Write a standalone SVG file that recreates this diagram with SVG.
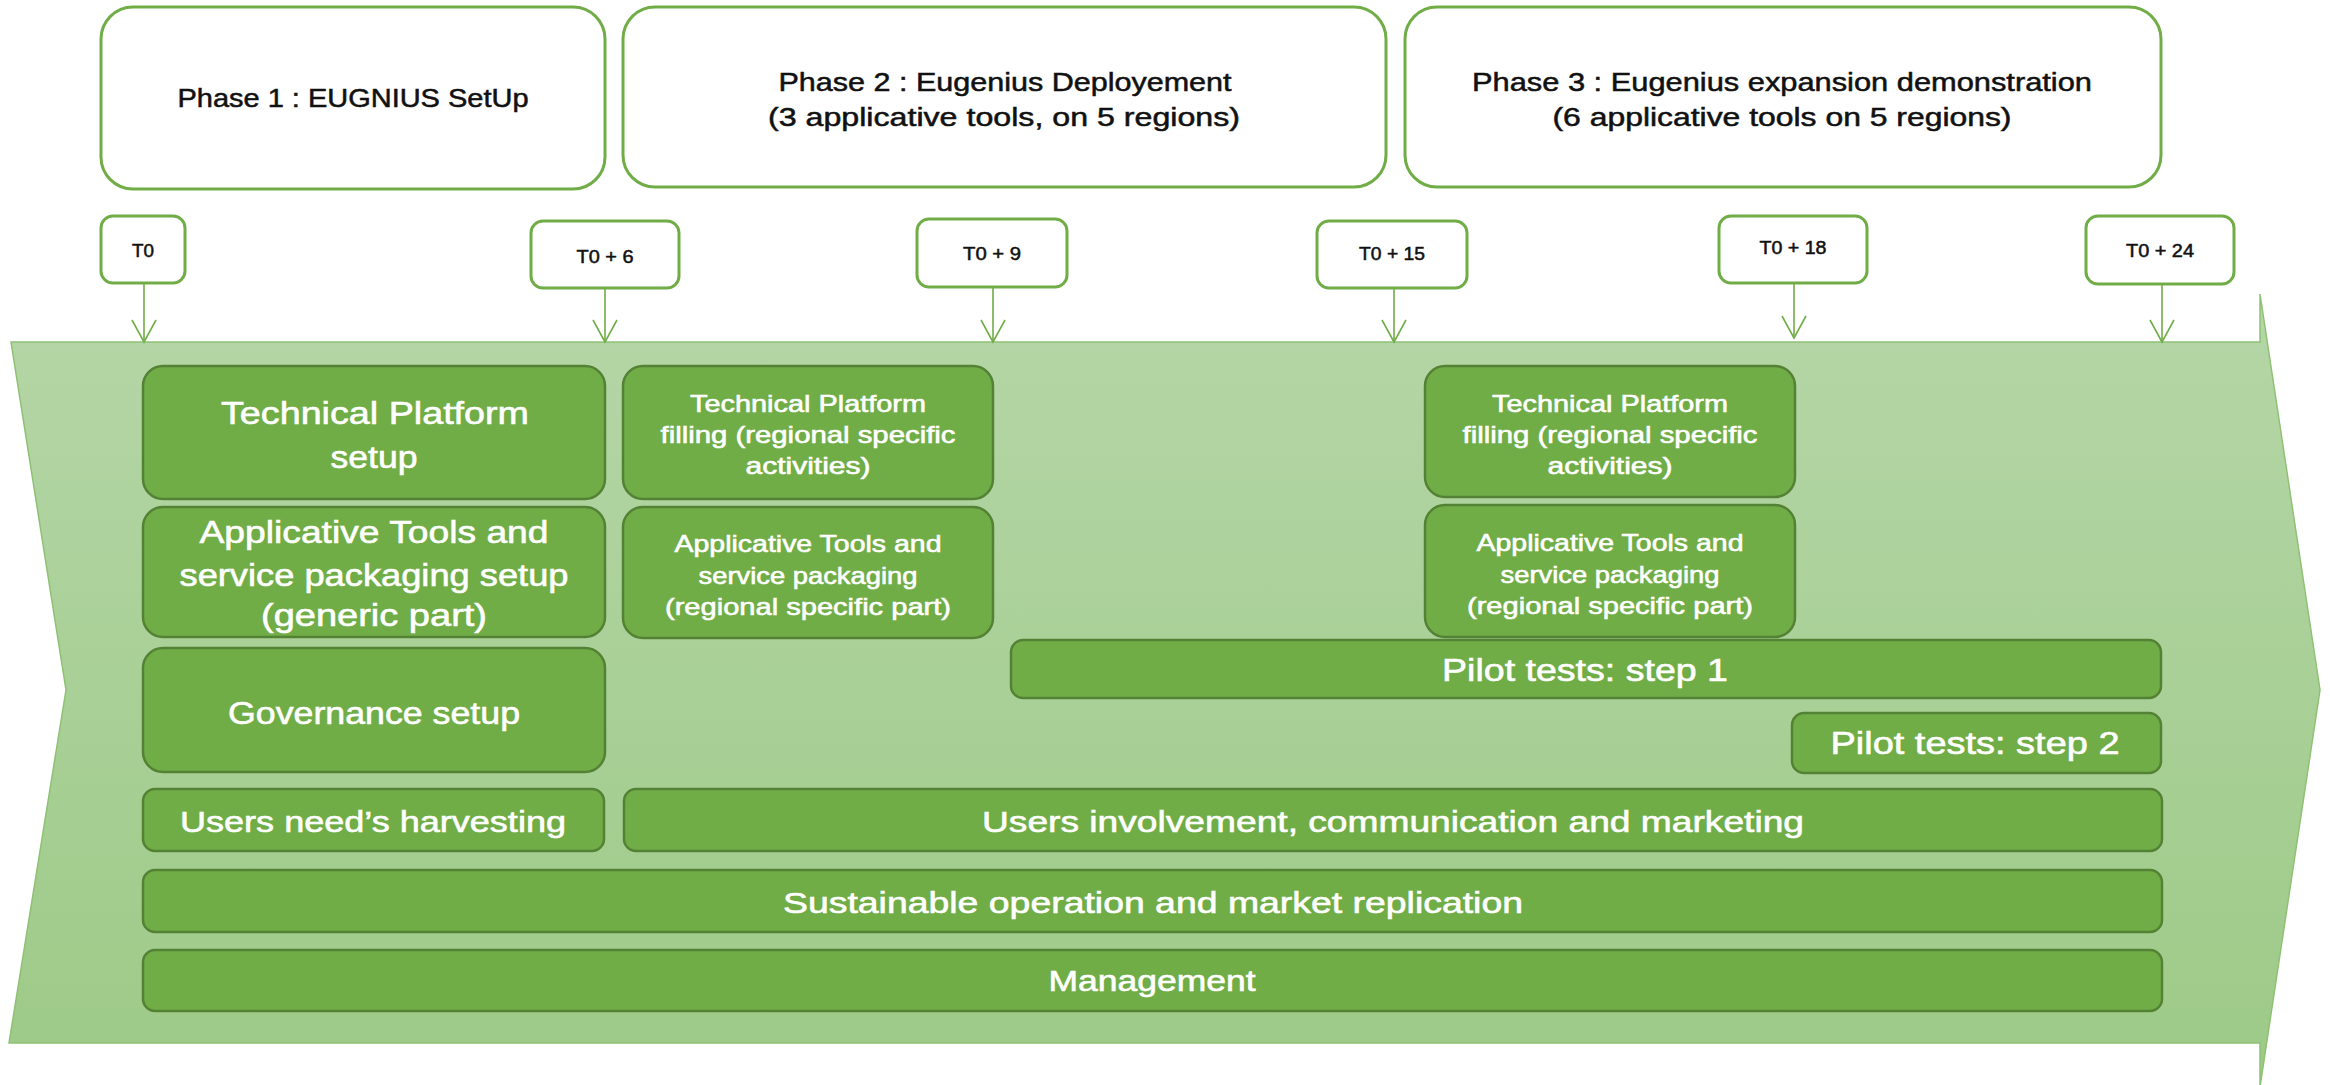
<svg xmlns="http://www.w3.org/2000/svg" width="2330" height="1085" viewBox="0 0 2330 1085">
<defs>
<linearGradient id="bg" x1="0" y1="0" x2="0" y2="1">
<stop offset="0" stop-color="#B5D6A7"/>
<stop offset="1" stop-color="#9DCA87"/>
</linearGradient>
<marker id="v" viewBox="0 0 26 26" markerWidth="26" markerHeight="26" refX="23" refY="13" orient="auto" markerUnits="userSpaceOnUse">
<path d="M1,1 L23,13 L1,25" fill="none" stroke="#70AD47" stroke-width="1.6"/>
</marker>
</defs>
<style>
.phase{fill:#FFFFFF;stroke:#70AD47;stroke-width:3}
.ms{fill:#FFFFFF;stroke:#70AD47;stroke-width:3}
.task{fill:#70AD47;stroke:#548235;stroke-width:2.5}
.dark{font-family:"Liberation Sans",Arial,sans-serif;fill:#111111;stroke:#111111;stroke-width:0.5;text-anchor:middle}
.wt{font-family:"Liberation Sans",Arial,sans-serif;fill:#FFFFFF;stroke:#FFFFFF;stroke-width:0.6;text-anchor:middle}
.conn{stroke:#70AD47;stroke-width:1.6;fill:none}
</style>
<rect width="2330" height="1085" fill="#FFFFFF"/>
<g id="timeline-arrow">
<path d="M11,342 L2260,342 L2260,294 L2320,690 L2260,1087 L2260,1043 L9,1043 L66,690 Z" fill="url(#bg)" stroke="#8FC175" stroke-width="1.5"/>
</g>
<g id="phase1">
<rect class="phase" x="101" y="7" width="504" height="182" rx="32"/>
<text class="dark" x="353" y="107" font-size="25" textLength="351" lengthAdjust="spacingAndGlyphs">Phase 1 : EUGNIUS SetUp</text>
</g>
<g id="phase2">
<rect class="phase" x="623" y="7" width="763" height="180" rx="32"/>
<text class="dark" x="1005" y="91" font-size="25" textLength="453" lengthAdjust="spacingAndGlyphs">Phase 2 : Eugenius Deployement</text>
<text class="dark" x="1004" y="126" font-size="25" textLength="472" lengthAdjust="spacingAndGlyphs">(3 applicative tools, on 5 regions)</text>
</g>
<g id="phase3">
<rect class="phase" x="1405" y="7" width="756" height="180" rx="32"/>
<text class="dark" x="1782" y="91" font-size="25" textLength="620" lengthAdjust="spacingAndGlyphs">Phase 3 : Eugenius expansion demonstration</text>
<text class="dark" x="1782" y="126" font-size="25" textLength="459" lengthAdjust="spacingAndGlyphs">(6 applicative tools on 5 regions)</text>
</g>
<g id="m-t0">
<rect class="ms" x="101" y="216" width="84" height="67" rx="12"/>
<text class="dark" x="143" y="257" font-size="18" textLength="22" lengthAdjust="spacingAndGlyphs">T0</text>
</g>
<g id="m-t6">
<rect class="ms" x="531" y="221" width="148" height="67" rx="12"/>
<text class="dark" x="605" y="263" font-size="18" textLength="57" lengthAdjust="spacingAndGlyphs">T0 + 6</text>
</g>
<g id="m-t9">
<rect class="ms" x="917" y="219" width="150" height="68" rx="12"/>
<text class="dark" x="992" y="260" font-size="18" textLength="58" lengthAdjust="spacingAndGlyphs">T0 + 9</text>
</g>
<g id="m-t15">
<rect class="ms" x="1317" y="221" width="150" height="67" rx="12"/>
<text class="dark" x="1392" y="260" font-size="18" textLength="66" lengthAdjust="spacingAndGlyphs">T0 + 15</text>
</g>
<g id="m-t18">
<rect class="ms" x="1719" y="216" width="148" height="67" rx="12"/>
<text class="dark" x="1793" y="254" font-size="18" textLength="67" lengthAdjust="spacingAndGlyphs">T0 + 18</text>
</g>
<g id="m-t24">
<rect class="ms" x="2086" y="216" width="148" height="68" rx="12"/>
<text class="dark" x="2160" y="257" font-size="18" textLength="68" lengthAdjust="spacingAndGlyphs">T0 + 24</text>
</g>
<g id="connectors">
<line class="conn" x1="144" y1="283" x2="144" y2="342" marker-end="url(#v)"/>
<line class="conn" x1="605" y1="288" x2="605" y2="342" marker-end="url(#v)"/>
<line class="conn" x1="993" y1="287" x2="993" y2="342" marker-end="url(#v)"/>
<line class="conn" x1="1394" y1="288" x2="1394" y2="342" marker-end="url(#v)"/>
<line class="conn" x1="1794" y1="283" x2="1794" y2="338" marker-end="url(#v)"/>
<line class="conn" x1="2162" y1="284" x2="2162" y2="342" marker-end="url(#v)"/>
</g>
<g id="tech-platform-setup">
<rect class="task" x="143" y="366" width="462" height="133" rx="20"/>
<text class="wt" x="375" y="424" font-size="32" textLength="308" lengthAdjust="spacingAndGlyphs">Technical Platform</text>
<text class="wt" x="374" y="468" font-size="32" textLength="87" lengthAdjust="spacingAndGlyphs">setup</text>
</g>
<g id="applicative-tools-setup">
<rect class="task" x="143" y="507" width="462" height="130" rx="20"/>
<text class="wt" x="374" y="543" font-size="32" textLength="349" lengthAdjust="spacingAndGlyphs">Applicative Tools and</text>
<text class="wt" x="374" y="586" font-size="32" textLength="389" lengthAdjust="spacingAndGlyphs">service packaging setup</text>
<text class="wt" x="374" y="626" font-size="32" textLength="226" lengthAdjust="spacingAndGlyphs">(generic part)</text>
</g>
<g id="governance-setup">
<rect class="task" x="143" y="648" width="462" height="124" rx="20"/>
<text class="wt" x="374" y="724" font-size="32" textLength="292" lengthAdjust="spacingAndGlyphs">Governance setup</text>
</g>
<g id="tech-platform-filling-1">
<rect class="task" x="623" y="366" width="370" height="133" rx="20"/>
<text class="wt" x="808" y="412" font-size="24" textLength="236" lengthAdjust="spacingAndGlyphs">Technical Platform</text>
<text class="wt" x="808" y="443" font-size="24" textLength="295" lengthAdjust="spacingAndGlyphs">filling (regional specific</text>
<text class="wt" x="808" y="474" font-size="24" textLength="125" lengthAdjust="spacingAndGlyphs">activities)</text>
</g>
<g id="applicative-tools-regional-1">
<rect class="task" x="623" y="507" width="370" height="131" rx="20"/>
<text class="wt" x="808" y="552" font-size="24" textLength="267" lengthAdjust="spacingAndGlyphs">Applicative Tools and</text>
<text class="wt" x="808" y="584" font-size="24" textLength="219" lengthAdjust="spacingAndGlyphs">service packaging</text>
<text class="wt" x="808" y="615" font-size="24" textLength="286" lengthAdjust="spacingAndGlyphs">(regional specific part)</text>
</g>
<g id="tech-platform-filling-2">
<rect class="task" x="1425" y="366" width="370" height="131" rx="20"/>
<text class="wt" x="1610" y="412" font-size="24" textLength="236" lengthAdjust="spacingAndGlyphs">Technical Platform</text>
<text class="wt" x="1610" y="443" font-size="24" textLength="295" lengthAdjust="spacingAndGlyphs">filling (regional specific</text>
<text class="wt" x="1610" y="474" font-size="24" textLength="125" lengthAdjust="spacingAndGlyphs">activities)</text>
</g>
<g id="applicative-tools-regional-2">
<rect class="task" x="1425" y="505" width="370" height="132" rx="20"/>
<text class="wt" x="1610" y="551" font-size="24" textLength="267" lengthAdjust="spacingAndGlyphs">Applicative Tools and</text>
<text class="wt" x="1610" y="583" font-size="24" textLength="219" lengthAdjust="spacingAndGlyphs">service packaging</text>
<text class="wt" x="1610" y="614" font-size="24" textLength="286" lengthAdjust="spacingAndGlyphs">(regional specific part)</text>
</g>
<g id="pilot-step1">
<rect class="task" x="1011" y="640" width="1150" height="58" rx="12"/>
<text class="wt" x="1585" y="681" font-size="32" textLength="286" lengthAdjust="spacingAndGlyphs">Pilot tests: step 1</text>
</g>
<g id="pilot-step2">
<rect class="task" x="1792" y="713" width="369" height="60" rx="12"/>
<text class="wt" x="1975" y="754" font-size="32" textLength="289" lengthAdjust="spacingAndGlyphs">Pilot tests: step 2</text>
</g>
<g id="users-need">
<rect class="task" x="143" y="789" width="461" height="62" rx="12"/>
<text class="wt" x="373" y="832" font-size="30" textLength="386" lengthAdjust="spacingAndGlyphs">Users need’s harvesting</text>
</g>
<g id="users-involvement">
<rect class="task" x="624" y="789" width="1538" height="62" rx="12"/>
<text class="wt" x="1393" y="832" font-size="30" textLength="822" lengthAdjust="spacingAndGlyphs">Users involvement, communication and marketing</text>
</g>
<g id="sustainable-operation">
<rect class="task" x="143" y="870" width="2019" height="62" rx="12"/>
<text class="wt" x="1153" y="913" font-size="30" textLength="740" lengthAdjust="spacingAndGlyphs">Sustainable operation and market replication</text>
</g>
<g id="management">
<rect class="task" x="143" y="950" width="2019" height="61" rx="12"/>
<text class="wt" x="1152" y="991" font-size="30" textLength="207" lengthAdjust="spacingAndGlyphs">Management</text>
</g>
</svg>
